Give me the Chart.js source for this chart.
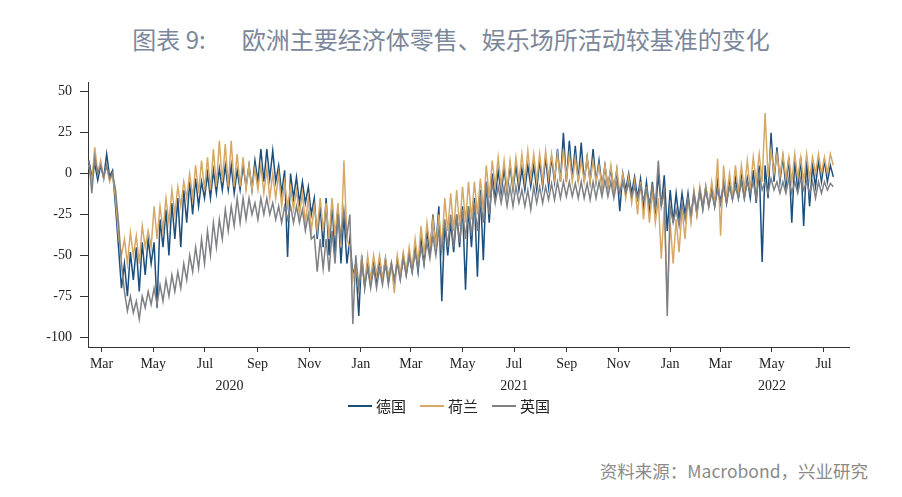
<!DOCTYPE html>
<html>
<head>
<meta charset="utf-8">
<script src="https://cdn.jsdelivr.net/npm/chart.js@4"></script>
<style>
  body { margin: 0; background: #fff; width: 902px; height: 497px; position: relative; overflow: hidden; }
  canvas { position: absolute; left: 0; top: 0; }
  #title { position: absolute; left: 0; top: 22px; width: 902px; text-align: center;
           font-family: "Noto Sans CJK SC", sans-serif; font-size: 24px; line-height: 34px; color: #7b879b; }
  #title .gap { display: inline-block; width: 36px; }
  #source { position: absolute; right: 34px; top: 458px; font-family: "Noto Sans CJK SC", sans-serif;
            font-size: 17.5px; line-height: 26px; color: #8a8a8a; }
</style>
</head>
<body>
<div id="title">图表 9:<span class="gap"></span>欧洲主要经济体零售、娱乐场所活动较基准的变化</div>
<div id="source">资料来源：Macrobond，兴业研究</div>
<canvas id="chart" width="902" height="497"></canvas>
<script>
// sampling: two readings per week (weekly high, weekly low), from 2020-02-15
const startDate = '2020-02-15';
const stepDays = 3.5;

const seriesNames = ['德国', '荷兰', '英国'];

const deValues = [
  8,-2, 6,-4, 5,-3, 12,-2, 2,-20, -45,-70, -55,-75, -48,-65, -45,-72, -42,-62,
  -40,-55, -42,-82, -28,-45, -22,-50, -18,-40, -15,-45, -10,-30, -5,-25, -3,-20, -5,-15,
  0,-15, 2,-12, 3,-10, 5,-10, 5,-12, 2,-10, 5,-8, 5,-10, 8,-5, 15,-5,
  15,-3, 14,-5, 5,-12, 2,-51, 0,-15, -2,-18, -5,-18, -8,-25, -15,-40, -20,-45,
  -15,-50, -18,-50, -20,-55, -25,-55, -40,-62, -55,-87, -50,-70, -55,-68, -55,-65, -52,-65,
  -52,-66, -55,-68, -52,-64, -50,-62, -50,-60, -45,-60, -40,-55, -35,-50, -25,-45, -20,-78,
  -30,-50, -30,-48, -25,-45, -20,-71, -20,-45, -15,-63, -10,-53, -5,-30, 0,-15, 2,-12,
  3,-12, 5,-10, 5,-10, 3,-10, 5,-8, 5,-10, 8,-8, 10,-8, 10,-5, 15,-5,
  25,-5, 20,-3, 17,-5, 19,-5, 10,-5, 15,-5, 8,-8, 5,-8, 3,-10, 2,-23,
  0,-10, 0,-12, -2,-15, -3,-20, -5,-22, -5,-25, 0,-20, -1,-35, -10,-30, -12,-28,
  -12,-25, -12,-28, -12,-25, -10,-22, -8,-20, -8,-20, -5,-18, -5,-18, -5,-15, -3,-15,
  -2,-15, -3,-15, 2,-18, 5,-54, 5,-15, 25,-5, 16,-5, 10,-8, 10,-30, 8,-10,
  10,-32, 8,-20, 5,-8, 8,-5, 8,-5, 5,-2
];

const nlValues = [
  5,-5, 16,0, 8,-3, 5,-5, 0,-15, -38,-50, -40,-55, -36,-50, -38,-55, -32,-45,
  -35,-45, -20,-40, -20,-35, -15,-30, -10,-25, -8,-20, -5,-15, 0,-15, 5,-12, 8,-10,
  10,-10, 15,-8, 20,-5, 18,-8, 20,-8, 12,-8, 10,-10, 5,-10, 3,-10, 5,-12,
  3,-15, 0,-15, 0,-20, -5,-20, -8,-22, -10,-25, -12,-30, -15,-35, -20,-35, -15,-35,
  -18,-40, -15,-38, -18,-45, 8,-40, -45,-65, -55,-70, -52,-68, -50,-65, -50,-62, -50,-65,
  -52,-62, -55,-73, -50,-62, -48,-60, -45,-58, -40,-55, -32,-50, -30,-45, -28,-45, -25,-45,
  -15,-35, -12,-35, -10,-32, -8,-30, -5,-28, -5,-25, -3,-22, 5,-15, 8,-8, 10,-8,
  8,-10, 8,-8, 10,-5, 12,-5, 14,-3, 12,-5, 12,-5, 14,-3, 12,-3, 12,-5,
  15,-3, 12,-5, 10,-5, 8,-5, 10,-5, 8,-5, 5,-8, 5,-8, 5,-10, 3,-12,
  0,-15, -2,-18, -5,-25, -5,-28, -8,-30, -10,-30, -15,-52, -20,-78, -30,-55, -28,-48,
  -22,-40, -15,-30, -10,-25, -8,-20, -8,-20, -5,-18, 9,-38, 5,-15, 0,-15, 5,-12,
  5,-10, 8,-10, 10,-5, 12,-5, 37,-2, 15,0, 12,-2, 12,-3, 10,-5, 12,-3,
  10,-5, 12,-3, 10,0, 12,0, 10,0, 12,5
];

const ukValues = [
  8,-12, 10,0, 5,-2, 5,-3, 0,-10, -30,-55, -72,-84, -75,-85, -78,-89, -75,-82,
  -72,-80, -70,-80, -68,-78, -65,-75, -62,-72, -60,-70, -55,-65, -50,-60, -45,-58, -40,-55,
  -35,-50, -30,-45, -28,-40, -22,-35, -20,-32, -15,-30, -15,-28, -15,-25, -18,-28, -15,-25,
  -15,-25, -18,-28, -20,-30, -20,-28, -20,-30, -20,-30, -22,-35, -25,-40, -38,-60, -40,-58,
  -40,-60, -35,-55, -25,-40, -22,-38, -25,-92, -50,-70, -55,-68, -58,-70, -58,-70, -58,-68,
  -55,-68, -55,-65, -55,-65, -52,-62, -50,-60, -48,-58, -45,-55, -42,-52, -38,-50, -35,-48,
  -28,-45, -25,-45, -25,-42, -22,-40, -20,-38, -18,-35, -15,-30, -5,-25, -5,-18, -8,-18,
  -8,-20, -8,-20, -8,-18, -10,-20, -10,-22, -8,-18, -8,-18, -8,-16, -6,-16, -5,-15,
  -5,-14, -5,-14, -6,-15, -5,-15, -6,-16, -5,-15, -5,-14, -4,-14, -5,-15, -5,-12,
  -5,-12, -6,-14, -8,-15, -8,-16, -10,-18, -8,-20, 8,-20, -10,-87, -20,-30, -22,-32,
  -18,-28, -15,-25, -12,-22, -10,-20, -10,-20, -12,-20, -10,-18, -8,-18, -8,-16, -8,-15,
  -5,-15, -5,-12, -5,-15, 0,-10, -5,-12, -3,-10, -5,-12, -5,-12, -3,-12, -5,-12,
  -3,-10, -5,-12, -5,-15, -5,-12, -5,-10, -6,-8
];

const monthTicks = ['2020-03-01','2020-05-01','2020-07-01','2020-09-01','2020-11-01',
  '2021-01-01','2021-03-01','2021-05-01','2021-07-01','2021-09-01','2021-11-01',
  '2022-01-01','2022-03-01','2022-05-01','2022-07-01'];
const monthLabels = ['Mar','May','Jul','Sep','Nov','Jan','Mar','May','Jul','Sep','Nov','Jan','Mar','May','Jul'];
const yearLabels = ['2020', '2021', '2022'];
const yearLabelDates = ['2020-07-30', '2021-07-01', '2022-05-01'];
const yTicks = [50, 25, 0, -25, -50, -75, -100];

const DAY = 86400000;
const toDay = s => Date.parse(s + 'T00:00:00Z') / DAY;

function toPoints(values) {
  const t0 = toDay(startDate);
  return values.map((v, i) => ({ x: t0 + i * stepDays, y: v }));
}

const colors = ['#1d4f7d', '#d6a866', '#7e8085'];
const serif = 'Liberation Serif';

// year row under the month labels + legend
const extras = {
  id: 'extras',
  afterDraw(chart) {
    const ctx = chart.ctx;
    const xs = chart.scales.x;
    ctx.save();
    ctx.fillStyle = '#222';
    ctx.font = '14px "' + serif + '"';
    ctx.textAlign = 'center';
    ctx.textBaseline = 'middle';
    yearLabels.forEach((t, i) => {
      ctx.fillText(t, xs.getPixelForValue(toDay(yearLabelDates[i])), 386);
    });

    ctx.font = '15px "Noto Sans CJK SC"';
    ctx.textAlign = 'left';
    let x = 348;
    const y = 406;
    seriesNames.forEach((name, i) => {
      ctx.strokeStyle = colors[i];
      ctx.lineWidth = 2;
      ctx.beginPath();
      ctx.moveTo(x, y);
      ctx.lineTo(x + 24, y);
      ctx.stroke();
      ctx.fillStyle = '#222';
      ctx.fillText(name, x + 28, y);
      x += 28 + ctx.measureText(name).width + 14;
    });
    ctx.restore();
  }
};

const ctx = document.getElementById('chart').getContext('2d');
new Chart(ctx, {
  type: 'line',
  data: {
    datasets: [
      { label: seriesNames[0], data: toPoints(deValues), borderColor: colors[0], order: 2 },
      { label: seriesNames[1], data: toPoints(nlValues), borderColor: colors[1], order: 1 },
      { label: seriesNames[2], data: toPoints(ukValues), borderColor: colors[2], order: 0 }
    ]
  },
  options: {
    responsive: false,
    animation: false,
    devicePixelRatio: 1,
    elements: {
      line: { borderWidth: 1.5, tension: 0 },
      point: { radius: 0 }
    },
    layout: { padding: { left: 0, right: 53, top: 82, bottom: 100 } },
    plugins: { legend: { display: false }, tooltip: { enabled: false } },
    scales: {
      x: {
        type: 'linear',
        min: toDay('2020-02-14'),
        max: toDay('2022-07-31'),
        afterBuildTicks: s => { s.ticks = monthTicks.map(d => ({ value: toDay(d) })); },
        afterFit: s => { s.height = 50; },
        ticks: {
          autoSkip: false, maxRotation: 0, padding: 4, color: '#222',
          font: { family: serif, size: 14 },
          callback: (v, i) => monthLabels[i]
        },
        grid: { drawOnChartArea: false, drawTicks: true, tickLength: 5, color: '#333' },
        border: { color: '#333', width: 1 }
      },
      y: {
        min: -106,
        max: 56,
        afterBuildTicks: s => { s.ticks = yTicks.map(v => ({ value: v })); },
        afterFit: s => { s.width = 88; },
        ticks: { padding: 8, color: '#222', font: { family: serif, size: 14 } },
        grid: { drawOnChartArea: false, drawTicks: true, tickLength: 8, color: '#333' },
        border: { color: '#333', width: 1 }
      }
    }
  },
  plugins: [extras]
});
</script>
</body>
</html>
